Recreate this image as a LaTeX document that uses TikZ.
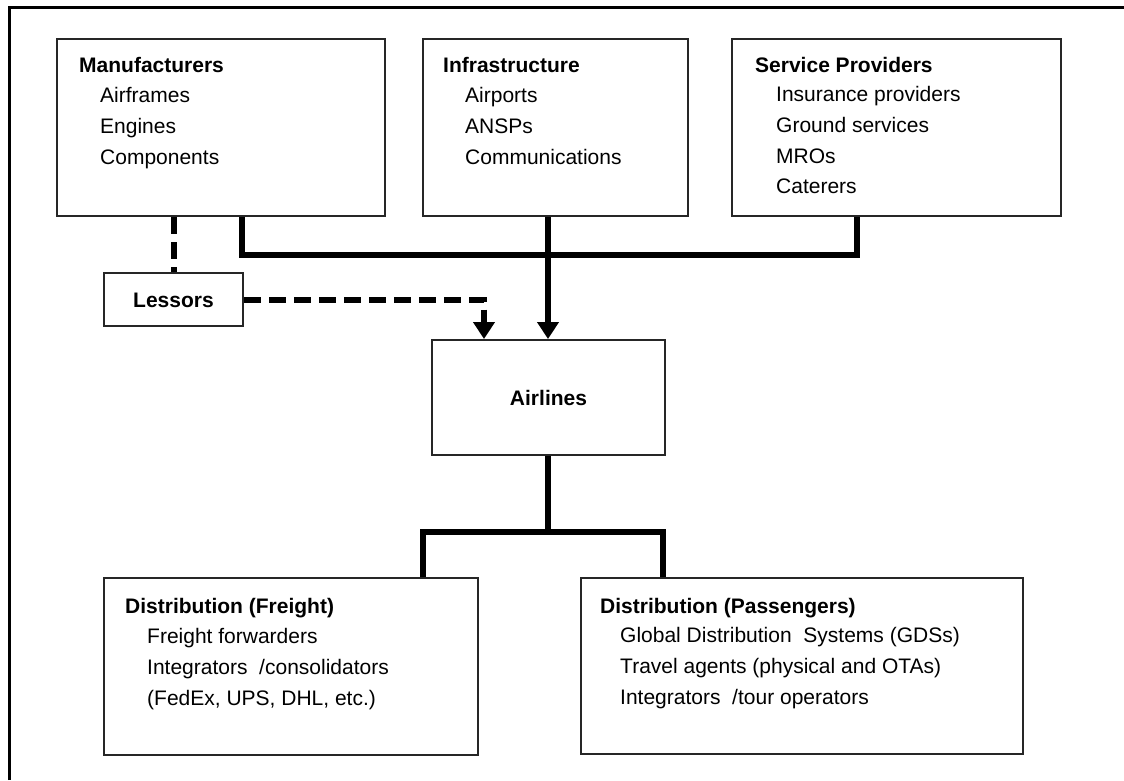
\documentclass[tikz,border=0pt]{standalone}
\usepackage{fontspec}
\setmainfont{Liberation Sans}
\usetikzlibrary{arrows.meta}
\begin{document}
\begin{tikzpicture}[x=1pt,y=-1pt,
  box/.style={draw=black!85, line width=2pt, inner sep=0pt, minimum width=#1},
  ttl/.style={anchor=base west, inner sep=0pt, font=\fontsize{21}{25}\selectfont\bfseries},
  itm/.style={anchor=base west, inner sep=0pt, font=\fontsize{21}{25}\selectfont},
  conn/.style={line width=6pt, line join=miter},
  dsh/.style={line width=6pt, dash pattern=on 17pt off 8pt, line join=miter},
  tip/.style={-{Triangle[width=21pt,length=17pt]}}
]
\useasboundingbox (0,0) rectangle (1124,780);
% outer frame (left and top edges visible)
\draw[line width=3pt] (9,780) -- (9,7) -- (1124,7);

% boxes
\node[box=328pt, minimum height=177pt] (man) at (221,127.5) {};
\node[box=265pt, minimum height=177pt] (inf) at (555.5,127.5) {};
\node[box=329pt, minimum height=177pt] (srv) at (896.5,127.5) {};
\node[box=139pt, minimum height=53pt] (les) at (173.5,299.5) {};
\node[box=233pt, minimum height=115pt] (air) at (548.5,397.5) {};
\node[box=374pt, minimum height=177pt] (fre) at (291,666.5) {};
\node[box=442pt, minimum height=176pt] (pas) at (802,666) {};

% texts
\node[ttl] (manT) at (79,72) {Manufacturers};
\node[itm] (man1) at (100,102) {Airframes};
\node[itm] (man2) at (100,133) {Engines};
\node[itm] (man3) at (100,164) {Components};

\node[ttl] (infT) at (443,72) {Infrastructure};
\node[itm] (inf1) at (465,102) {Airports};
\node[itm] (inf2) at (465,133) {ANSPs};
\node[itm] (inf3) at (465,164) {Communications};

\node[ttl] (srvT) at (755,72) {Service Providers};
\node[itm] (srv1) at (776,101) {Insurance providers};
\node[itm] (srv2) at (776,132) {Ground services};
\node[itm] (srv3) at (776,163) {MROs};
\node[itm] (srv4) at (776,193) {Caterers};

\node[ttl, anchor=base] (lesT) at (173.5,307) {Lessors};
\node[ttl, anchor=base] (airT) at (548.5,405) {Airlines};

\node[ttl] (freT) at (125,613) {Distribution (Freight)};
\node[itm] (fre1) at (147,643) {Freight forwarders};
\node[itm] (fre2) at (147,674) {Integrators~~/consolidators};
\node[itm] (fre3) at (147,705) {(FedEx, UPS, DHL, etc.)};

\node[ttl] (pasT) at (600,613) {Distribution (Passengers)};
\node[itm] (pas1) at (620,642) {Global Distribution~~Systems (GDSs)};
\node[itm] (pas2) at (620,673) {Travel agents (physical and OTAs)};
\node[itm] (pas3) at (620,704) {Integrators~~/tour operators};

% connector points
\coordinate (bL) at (242,255);
\coordinate (bM) at (548,255);
\coordinate (bR) at (857,255);
\coordinate (lt) at (484,299.5);
\coordinate (aj) at (548,532);
\coordinate (fl) at (423,532);
\coordinate (pr) at (663,532);

% upper connectors
\draw[conn] (man.south -| bL) -- (bL) -- (bR) -- (srv.south -| bR);
\draw[conn] (inf.south -| bM) -- (bM);
\draw[conn, tip] (bM) -- (air.north -| bM);
\draw[dsh] (man.south -| les.north) -- (les.north);
\draw[dsh, tip] (les.east) -- (lt) -- (air.north -| lt);

% lower connectors
\draw[conn] (air.south -| aj) -- (aj);
\draw[conn] (fre.north -| fl) -- (fl) -- (pr) -- (pas.north -| pr);
\end{tikzpicture}
\end{document}
